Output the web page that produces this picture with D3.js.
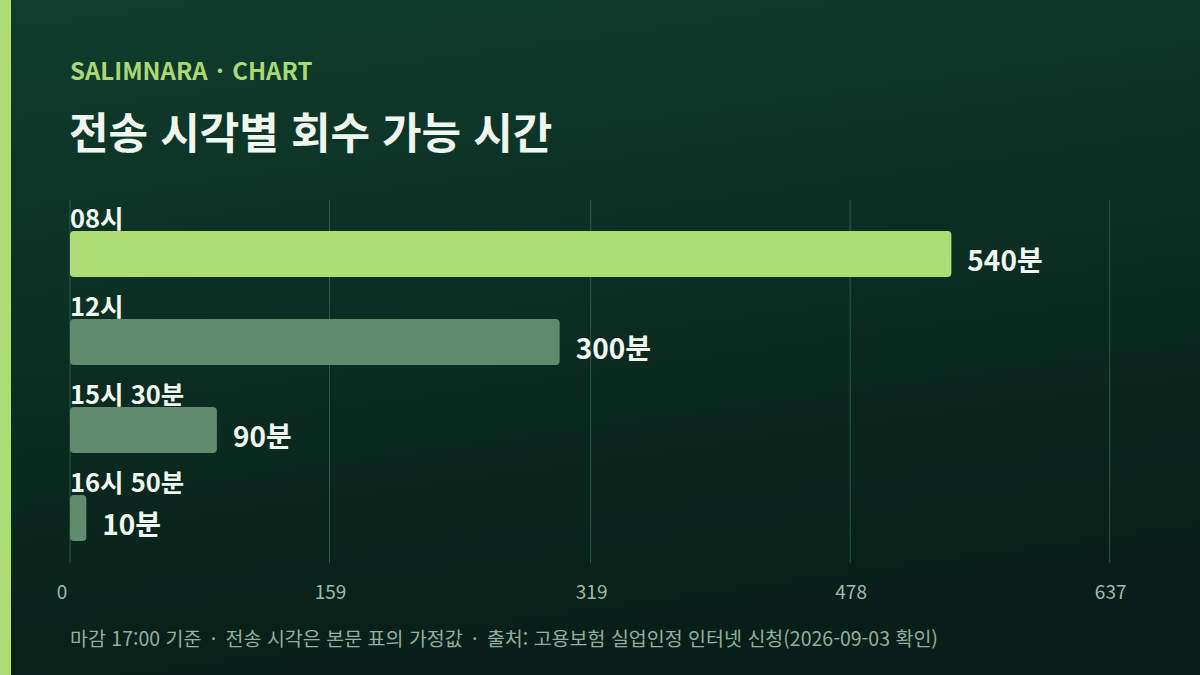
<!DOCTYPE html>
<html lang="ko">
<head>
<meta charset="utf-8">
<script src="https://cdn.jsdelivr.net/npm/d3@7/dist/d3.min.js"></script>
<style>
  html, body { margin: 0; padding: 0; background: #0b2a20; }
  svg { display: block; font-family: 'Noto Sans CJK KR', 'Noto Sans', sans-serif; }
</style>
</head>
<body>
<div id="chart"></div>
<script>
// 전송 시각별 회수 가능 시간 (분)
const categories = ['08시', '12시', '15시 30분', '16시 50분'];
const minutes = [540, 300, 90, 10];
const tickValues = [0, 159, 319, 478, 637];
const highlight = '08시';
const footerParts = ['마감 17:00 기준', '전송 시각은 본문 표의 가정값', '출처: 고용보험 실업인정 인터넷 신청(2026-09-03 확인)'];

const W = 1200, H = 675;
const margin = { left: 70, right: 90, top: 200, bottom: 112 };

const svg = d3.select('#chart').append('svg')
  .attr('width', W).attr('height', H);

// Background gradient
const defs = svg.append('defs');
const grad = defs.append('linearGradient')
  .attr('id', 'bg').attr('x1', 0).attr('y1', 0).attr('x2', 0.25).attr('y2', 1);
grad.append('stop').attr('offset', '0%').attr('stop-color', '#0f3d2e');
grad.append('stop').attr('offset', '100%').attr('stop-color', '#071f18');

svg.append('rect').attr('width', W).attr('height', H).attr('fill', 'url(#bg)');
svg.append('rect').attr('width', 11).attr('height', H).attr('fill', '#aedd78');

// joins parts with a wide " · " separator
function dotted(sel, parts, gap) {
  parts.forEach((p, i) => {
    if (i > 0) sel.append('tspan').text(' · ').style('word-spacing', gap);
    sel.append('tspan').text(p);
  });
}

// Header
svg.append('text')
  .attr('x', 70).attr('y', 80)
  .attr('fill', '#a8d975')
  .style('font-size', '24px')
  .style('font-weight', 700)
  .call(dotted, ['SALIMNARA', 'CHART'], '0.07em');

svg.append('text')
  .attr('x', 69).attr('y', 149)
  .text('전송 시각별 회수 가능 시간')
  .attr('fill', '#eef6ee')
  .style('font-size', '43px')
  .style('font-weight', 700);

// Scales
const x = d3.scaleLinear()
  .domain([0, d3.max(minutes) * 1.18])
  .range([margin.left, 1110]);

const y = d3.scaleBand()
  .domain(categories)
  .range([margin.top, margin.top + 88 * categories.length])
  .paddingInner(0);

const plotBottom = 563;

// Gridlines
svg.append('g')
  .selectAll('line')
  .data(tickValues)
  .join('line')
  .attr('x1', d => x(d)).attr('x2', d => x(d))
  .attr('y1', margin.top).attr('y2', plotBottom)
  .attr('stroke', '#2b5a47')
  .attr('stroke-width', 1);

// Tick labels
svg.append('g')
  .selectAll('text')
  .data(tickValues)
  .join('text')
  .attr('x', (d, i) => x(d) + (i === 0 ? -8 : 1))
  .attr('y', 599)
  .attr('text-anchor', 'middle')
  .text(d => d)
  .attr('fill', '#9dbbab')
  .style('font-size', '19px');

// Bars
const barH = 46;
const rows = svg.append('g')
  .selectAll('g')
  .data(categories.map((c, i) => ({ cat: c, v: minutes[i] })))
  .join('g')
  .attr('transform', d => `translate(0,${y(d.cat)})`);

rows.append('text')
  .attr('x', 70).attr('y', 28)
  .text(d => d.cat)
  .attr('fill', '#f1f7f1')
  .style('font-size', '25.5px')
  .style('font-weight', 700);

rows.append('rect')
  .attr('x', x(0))
  .attr('y', 31)
  .attr('width', d => x(d.v) - x(0))
  .attr('height', barH)
  .attr('rx', 4).attr('ry', 4)
  .attr('fill', d => d.cat === highlight ? '#aedd78' : '#5f8b6f');

rows.append('text')
  .attr('x', d => x(d.v) + 16)
  .attr('y', 31 + barH / 2 + 16.5)
  .text(d => `${d.v}분`)
  .attr('fill', '#f1f7f1')
  .style('font-size', '28px')
  .style('font-weight', 700);

// Footer
svg.append('text')
  .attr('x', 70).attr('y', 646)
  .attr('fill', '#8fb09f')
  .style('font-size', '19.5px')
  .call(dotted, footerParts, '0.2em');
</script>
</body>
</html>
